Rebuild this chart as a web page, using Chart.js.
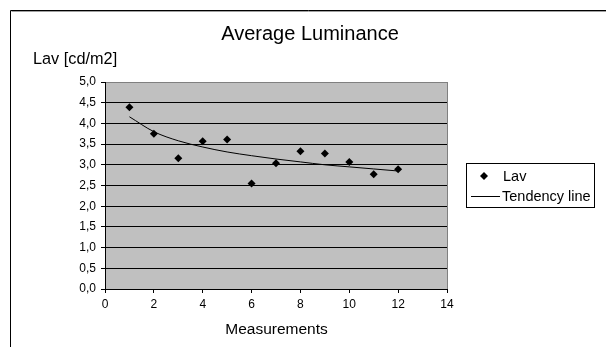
<!DOCTYPE html>
<html lang="en">
<head>
  <meta charset="UTF-8">
  <title>Average Luminance</title>
  <script src="https://cdn.jsdelivr.net/npm/chart.js"></script>
  <style>
    html, body { margin: 0; padding: 0; background: #fff; }
    #wrap { width: 606px; height: 347px; position: relative; }
  </style>
</head>
<body>
  <div id="wrap"><canvas id="myChart" width="606" height="347"></canvas></div>

  <script>
    // values
    const measurements = [1, 2, 3, 4, 5, 6, 7, 8, 9, 10, 11, 12];
    const lav = [4.39, 3.75, 3.16, 3.57, 3.61, 2.55, 3.04, 3.33, 3.27, 3.07, 2.77, 2.89];
    const tendency = [4.16, 3.80, 3.58, 3.43, 3.31, 3.22, 3.14, 3.07, 3.00, 2.95, 2.90, 2.85];
    const xTicks = [0, 2, 4, 6, 8, 10, 12, 14];
    const yTicks = [0, 0.5, 1, 1.5, 2, 2.5, 3, 3.5, 4, 4.5, 5];

    const FONT = "'Liberation Sans', Arial, sans-serif";

    // grey plot area, frame, titles and legend
    const decorations = {
      id: 'decorations',
      beforeDraw(chart) {
        const { ctx, chartArea: a } = chart;
        ctx.save();
        ctx.fillStyle = '#c0c0c0';
        ctx.fillRect(a.left, a.top, a.right - a.left, a.bottom - a.top);
        ctx.restore();
      },
      afterDraw(chart) {
        const { ctx, chartArea: a } = chart;
        ctx.save();
        // outer frame (only top and left visible)
        ctx.strokeStyle = '#000';
        ctx.lineWidth = 1;
        ctx.beginPath();
        ctx.moveTo(10.5, 347);
        ctx.lineTo(10.5, 10.5);
        ctx.lineTo(606, 10.5);
        ctx.stroke();
        ctx.strokeStyle = '#a0a0a0';
        ctx.beginPath();
        ctx.moveTo(11.5, 11.5);
        ctx.lineTo(606, 11.5);
        ctx.stroke();

        // grey right edge of plot area
        ctx.strokeStyle = '#808080';
        ctx.beginPath();
        ctx.moveTo(Math.round(a.right) + 0.5, a.top);
        ctx.lineTo(Math.round(a.right) + 0.5, a.bottom);
        ctx.stroke();

        // texts
        ctx.fillStyle = '#000';
        ctx.textBaseline = 'alphabetic';
        ctx.textAlign = 'center';
        ctx.font = '20px ' + FONT;
        ctx.fillText('Average Luminance', 310, 40);
        ctx.font = '15.5px ' + FONT;
        ctx.fillText('Measurements', 276.5, 334);
        ctx.textAlign = 'left';
        ctx.font = '16.3px ' + FONT;
        ctx.fillText('Lav [cd/m2]', 33, 64);

        // legend
        const lx = 466, ly = 163, lw = 128, lh = 44;
        ctx.fillStyle = '#fff';
        ctx.fillRect(lx, ly, lw, lh);
        ctx.strokeStyle = '#000';
        ctx.strokeRect(lx + 0.5, ly + 0.5, lw, lh);
        ctx.fillStyle = '#000';
        ctx.beginPath();
        ctx.moveTo(484, 172);
        ctx.lineTo(488, 176);
        ctx.lineTo(484, 180);
        ctx.lineTo(480, 176);
        ctx.closePath();
        ctx.fill();
        ctx.beginPath();
        ctx.moveTo(471, 196.5);
        ctx.lineTo(500, 196.5);
        ctx.stroke();
        ctx.font = '14.5px ' + FONT;
        ctx.fillText('Lav', 503, 181);
        ctx.fillText('Tendency line', 502, 201);
        ctx.restore();
      }
    };

    const ctx = document.getElementById('myChart').getContext('2d');
    new Chart(ctx, {
      type: 'scatter',
      data: {
        datasets: [
          {
            label: 'Lav',
            data: measurements.map((m, i) => ({ x: m, y: lav[i] })),
            pointStyle: 'rectRot',
            pointRadius: 4,
            backgroundColor: '#000',
            borderColor: '#000',
            borderWidth: 0,
            showLine: false
          },
          {
            label: 'Tendency line',
            data: measurements.map((m, i) => ({ x: m, y: tendency[i] })),
            showLine: true,
            pointRadius: 0,
            borderColor: '#000',
            borderWidth: 1,
            cubicInterpolationMode: 'monotone'
          }
        ]
      },
      options: {
        responsive: false,
        animation: false,
        events: [],
        layout: { padding: { left: 0, top: 82, right: 159, bottom: 0 } },
        plugins: {
          legend: { display: false },
          title: { display: false },
          tooltip: { enabled: false }
        },
        scales: {
          x: {
            type: 'linear',
            min: 0,
            max: 14,
            afterFit(scale) { scale.height = 58; },
            afterBuildTicks(scale) { scale.ticks = xTicks.map(v => ({ value: v })); },
            ticks: {
              color: '#000',
              padding: 4,
              maxRotation: 0,
              font: { family: FONT, size: 12 }
            },
            grid: {
              drawOnChartArea: false,
              drawTicks: true,
              tickLength: 4,
              tickColor: '#000'
            },
            border: { color: '#000', width: 1 }
          },
          y: {
            min: 0,
            max: 5,
            afterFit(scale) { scale.width = 105; },
            afterBuildTicks(scale) { scale.ticks = yTicks.map(v => ({ value: v })); },
            ticks: {
              color: '#000',
              padding: 5,
              font: { family: FONT, size: 12 },
              callback: v => v.toFixed(1).replace('.', ',')
            },
            grid: {
              color: c => (c.tick && c.tick.value === 5 ? '#808080' : '#000'),
              tickLength: 4,
              tickColor: '#000',
              lineWidth: 1
            },
            border: { color: '#000', width: 1 }
          }
        }
      },
      plugins: [decorations]
    });
  </script>
</body>
</html>
